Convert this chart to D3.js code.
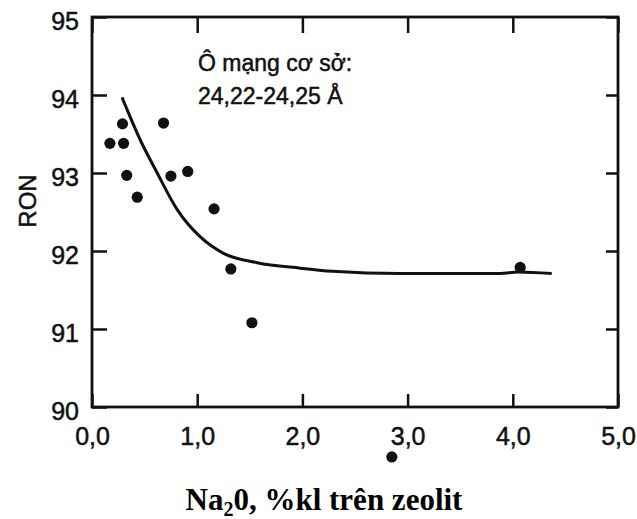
<!DOCTYPE html>
<html>
<head>
<meta charset="utf-8">
<script src="https://cdn.jsdelivr.net/npm/d3@7"></script>
<style>
  body { margin: 0; background: #fff; }
  svg { display: block; }
</style>
</head>
<body>
<svg id="chart"></svg>
<script>
// Na2O content (%kl) and measured RON
const pointsNa2O = [0.17, 0.29, 0.30, 0.33, 0.43, 0.68, 0.75, 0.91, 1.16, 1.32, 1.52, 4.07, 2.85];
const pointsRON = [93.38, 93.63, 93.38, 92.97, 92.69, 93.64, 92.96, 93.02, 92.54, 91.77, 91.08, 91.79, 89.36];

// trend curve
const curveNa2O = [0.285, 0.46, 0.62, 0.81, 1.03, 1.25, 1.57, 1.98, 2.29, 2.93, 3.50, 3.88, 4.05, 4.37];
const curveRON = [93.97, 93.42, 93.0, 92.53, 92.18, 91.97, 91.85, 91.78, 91.74, 91.71, 91.71, 91.71, 91.73, 91.71];

const xTicks = [0, 1, 2, 3, 4, 5];
const yTicks = [90, 91, 92, 93, 94, 95];

const annotationLines = ['Ô mạng cơ sở:', '24,22-24,25 Å'];

const width = 637;
const height = 519;
const plotLeft = 92, plotRight = 618, plotTop = 17, plotBottom = 407;
const ink = '#111';

const svg = d3.select('#chart')
    .attr('width', width)
    .attr('height', height)
    .style('font-family', '"Liberation Sans", Arial, sans-serif');

const x = d3.scaleLinear().domain([0, 5]).range([plotLeft, plotRight]);
const y = d3.scaleLinear().domain([90, 95]).range([plotBottom, plotTop]);

const commaFormat = d => d3.format('.1f')(d).replace('.', ',');

// axes, ticks pointing inward
const xAxisBottom = svg.append('g')
    .attr('transform', `translate(0,${plotBottom})`)
    .call(d3.axisBottom(x).tickValues(xTicks).tickSize(-13).tickPadding(20).tickFormat(commaFormat));

const xAxisTop = svg.append('g')
    .attr('transform', `translate(0,${plotTop})`)
    .call(d3.axisTop(x).tickValues(xTicks).tickSize(-16).tickFormat(''));

const yAxisLeft = svg.append('g')
    .attr('transform', `translate(${plotLeft},0)`)
    .call(d3.axisLeft(y).tickValues(yTicks).tickSize(-15).tickPadding(13).tickFormat(d3.format('d')));

const yAxisRight = svg.append('g')
    .attr('transform', `translate(${plotRight},0)`)
    .call(d3.axisRight(y).tickValues(yTicks).tickSize(-12).tickFormat(''));

[xAxisBottom, xAxisTop, yAxisLeft, yAxisRight].forEach(axis => {
    axis.select('.domain').remove();
    axis.selectAll('.tick line').attr('stroke', ink).attr('stroke-width', 2.5);
    axis.selectAll('.tick text')
        .attr('fill', ink)
        .attr('stroke', ink)
        .attr('stroke-width', 0.5)
        .style('font-size', '25px')
        .style('font-family', '"Liberation Sans", Arial, sans-serif');
});
yAxisLeft.selectAll('.tick text').attr('dy', '0.5em');

// frame
svg.append('rect')
    .attr('x', plotLeft)
    .attr('y', plotTop)
    .attr('width', plotRight - plotLeft)
    .attr('height', plotBottom - plotTop)
    .attr('fill', 'none')
    .attr('stroke', ink)
    .attr('stroke-width', 2.8);

// trend curve
const line = d3.line()
    .x((d, i) => x(curveNa2O[i]))
    .y(d => y(d))
    .curve(d3.curveMonotoneX);

svg.append('path')
    .datum(curveRON)
    .attr('d', line)
    .attr('fill', 'none')
    .attr('stroke', ink)
    .attr('stroke-width', 3);

// data points
svg.append('g')
    .selectAll('circle')
    .data(pointsRON)
    .join('circle')
    .attr('cx', (d, i) => x(pointsNa2O[i]))
    .attr('cy', d => y(d))
    .attr('r', 5.6)
    .attr('fill', ink);

// annotation
svg.append('text')
    .attr('x', 198)
    .attr('y', 71)
    .attr('fill', ink)
    .attr('stroke', ink)
    .attr('stroke-width', 0.5)
    .style('font-size', '23px')
    .selectAll('tspan')
    .data(annotationLines)
    .join('tspan')
    .attr('x', 198)
    .attr('dy', (d, i) => i === 0 ? 0 : 33)
    .text(d => d);

// y title
svg.append('text')
    .attr('transform', 'translate(36,201) rotate(-90)')
    .attr('text-anchor', 'middle')
    .attr('fill', ink)
    .attr('stroke', ink)
    .attr('stroke-width', 0.5)
    .style('font-size', '24px')
    .text('RON');

// x title
const xTitle = svg.append('text')
    .attr('x', 324)
    .attr('y', 510)
    .attr('text-anchor', 'middle')
    .attr('fill', '#000')
    .style('font-family', '"Liberation Serif", "Times New Roman", serif')
    .style('font-weight', 'bold')
    .style('font-size', '31px');
xTitle.append('tspan').text('Na');
xTitle.append('tspan').attr('dy', 6).style('font-size', '20px').text('2');
xTitle.append('tspan').attr('dy', -6).text('0, %kl trên zeolit');
</script>
</body>
</html>
